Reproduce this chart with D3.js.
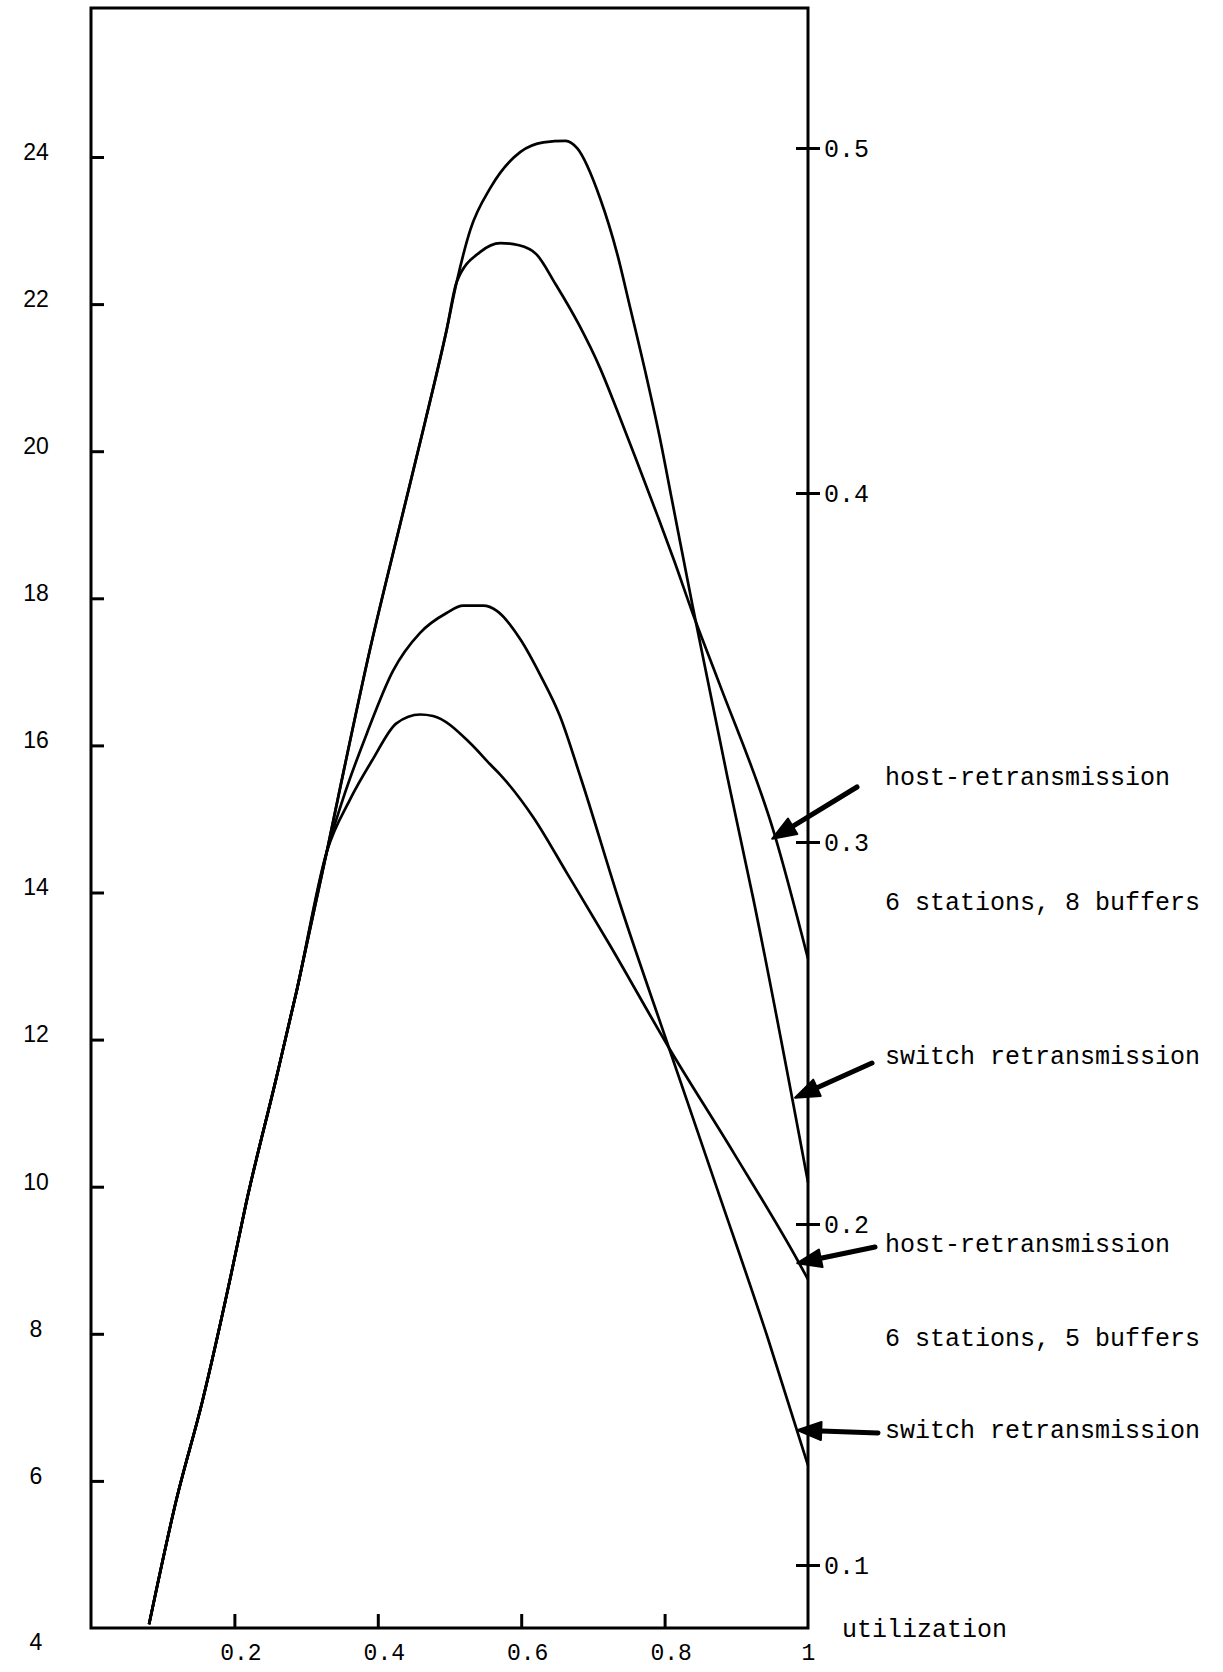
<!DOCTYPE html>
<html>
<head>
<meta charset="utf-8">
<script src="https://cdn.jsdelivr.net/npm/d3@7"></script>
<style>
  body { margin: 0; background: #fff; }
  svg { display: block; }
  .mono { font-family: "Liberation Mono", "DejaVu Sans Mono", monospace; }
  .sans { font-family: "Liberation Sans", Arial, sans-serif; }
</style>
</head>
<body>
<svg id="chart" width="1223" height="1672"></svg>
<script>
// values (x = utilization, y = left axis units)
const commonRise = [
  [0.081, 4.05], [0.119, 5.74], [0.155, 7.07], [0.197, 8.88], [0.216, 9.76],
  [0.258, 11.46], [0.287, 12.67], [0.329, 14.56],
];
const sharedUpper = [
  [0.347, 15.40], [0.389, 17.30], [0.431, 19.00], [0.466, 20.40],
  [0.496, 21.65], [0.510, 22.30],
];
const switch8 = [
  [0.529, 23.01], [0.557, 23.58], [0.599, 24.07], [0.631, 24.20], [0.662, 24.22],
  [0.678, 24.12], [0.710, 23.44], [0.734, 22.68], [0.752, 21.95], [0.775, 21.00],
  [0.793, 20.20], [0.810, 19.35], [0.839, 17.90], [0.864, 16.70], [0.888, 15.55],
  [0.924, 13.90], [1.0, 10.06],
];
const host8 = [
  [0.543, 22.71], [0.571, 22.83], [0.597, 22.80], [0.621, 22.68], [0.648, 22.27],
  [0.680, 21.73], [0.710, 21.13], [0.734, 20.55], [0.761, 19.87], [0.791, 19.10],
  [0.813, 18.52], [0.839, 17.80], [0.876, 16.85], [0.953, 14.80], [1.0, 13.10],
];
const switch5 = [
  [0.351, 15.26], [0.385, 16.17], [0.421, 17.01], [0.459, 17.53], [0.496, 17.80],
  [0.519, 17.90], [0.547, 17.90], [0.566, 17.83], [0.599, 17.44], [0.627, 16.95],
  [0.654, 16.40], [0.683, 15.56], [0.738, 13.84], [0.806, 11.89], [0.874, 9.95],
  [0.944, 7.94], [1.0, 6.21],
];
const host5 = [
  [0.361, 15.26], [0.393, 15.81], [0.426, 16.30], [0.459, 16.42], [0.477, 16.40],
  [0.529, 16.03], [0.557, 15.74], [0.571, 15.60], [0.617, 15.02], [0.664, 14.26],
  [0.724, 13.28], [0.806, 11.89], [0.897, 10.45], [0.986, 8.99], [1.0, 8.74],
];

const leftTicks = [4, 6, 8, 10, 12, 14, 16, 18, 20, 22, 24];
const rightTicks = [0.1, 0.2, 0.3, 0.4, 0.5];
const xTicks = [0.2, 0.4, 0.6, 0.8, 1];
const xTickLabels = ['0.2', '0.4', '0.6', '0.8', '1'];
const rightTickLabels = ['0.1', '0.2', '0.3', '0.4', '0.5'];

// annotation texts and the curve point each arrow points at
const notes = [
  {text: 'host-retransmission', tip: [0.950, 14.73]},
  {text: '6 stations, 8 buffers'},
  {text: 'switch retransmission', tip: [0.982, 11.21]},
  {text: 'host-retransmission', tip: [0.985, 8.96]},
  {text: '6 stations, 5 buffers'},
  {text: 'switch retransmission', tip: [0.985, 6.69]},
];
const noteY = [777, 902, 1056, 1244, 1338, 1430];
const tailDy = [10, 0, 7, 3, 0, 3];
const tailX = [857, 0, 872, 875, 0, 878];

const svg = d3.select('#chart');
const frameTop = 8;

const x = d3.scaleLinear().domain([0, 1]).range([91, 808]);
const y = d3.scaleLinear().domain([4, 24]).range([1628, 157]);
// the right scale is hand drawn and not quite even
const yR = d3.scaleLinear().domain(rightTicks).range([1565, 1224, 842, 493, 148]);

svg.append('rect').attr('width', 1223).attr('height', 1672).attr('fill', '#fff');

// frame
svg.append('path')
    .attr('d', `M${x(0)},${y(4)}V${frameTop}H${x(1)}V${y(4)}Z`)
    .attr('fill', 'none')
    .attr('stroke', '#000')
    .attr('stroke-width', 3);

// left axis
const gl = svg.append('g')
    .attr('transform', `translate(${x(0)},0)`)
    .call(d3.axisLeft(y).tickValues(leftTicks).tickSizeInner(-13)
        .tickSizeOuter(0).tickPadding(55).tickFormat(d3.format('d')));
gl.select('.domain').remove();
gl.selectAll('.tick line').attr('stroke-width', 3)
    .filter((d) => d === 4).remove();
gl.selectAll('.tick text')
    .attr('class', 'sans')
    .attr('text-anchor', 'middle')
    .attr('font-size', 23)
    .attr('fill', '#000')
    .attr('dy', (d) => d === 4 ? '0.95em' : '0.1em');

// bottom axis
const gb = svg.append('g')
    .attr('transform', `translate(0,${y(4)})`)
    .call(d3.axisBottom(x).tickValues(xTicks).tickSizeInner(-14)
        .tickSizeOuter(0).tickPadding(16)
        .tickFormat((d, i) => xTickLabels[i]));
gb.select('.domain').remove();
gb.selectAll('.tick line').attr('stroke-width', 3)
    .filter((d) => d === 1).remove();
gb.selectAll('.tick text')
    .attr('class', 'mono')
    .attr('font-size', 23)
    .attr('fill', '#000')
    .attr('dx', (d) => d === 1 ? 0 : 6);

svg.append('text')
    .attr('class', 'mono')
    .attr('x', 842)
    .attr('y', y(4))
    .attr('dy', '0.35em')
    .attr('font-size', 25)
    .text('utilization');

// right axis
const gr = svg.append('g')
    .attr('transform', `translate(${x(1)},0)`)
    .call(d3.axisRight(yR).tickValues(rightTicks).tickSizeInner(12)
        .tickSizeOuter(0).tickPadding(4)
        .tickFormat((d, i) => rightTickLabels[i]));
gr.select('.domain').remove();
gr.selectAll('.tick line').attr('x1', -12).attr('stroke-width', 3);
gr.selectAll('.tick text')
    .attr('class', 'mono')
    .attr('font-size', 25)
    .attr('fill', '#000');

// curves
const line = d3.line()
    .x((d) => x(d[0]))
    .y((d) => y(d[1]))
    .curve(d3.curveMonotoneX);

const series = [
  commonRise.concat(sharedUpper, switch8),
  commonRise.concat(sharedUpper, host8),
  commonRise.concat(switch5),
  commonRise.concat(host5),
];
svg.append('g')
    .selectAll('path')
    .data(series)
    .join('path')
    .attr('d', line)
    .attr('fill', 'none')
    .attr('stroke', '#000')
    .attr('stroke-width', 2.7)
    .attr('stroke-linejoin', 'round');

// annotations
const gn = svg.append('g');
notes.forEach((n, i) => {
  gn.append('text')
      .attr('class', 'mono')
      .attr('x', 885)
      .attr('y', noteY[i])
      .attr('dy', '0.3em')
      .attr('font-size', 25)
      .text(n.text);
  if (!n.tip) return;
  const tx = x(n.tip[0]);
  const ty = y(n.tip[1]);
  const sx = tailX[i];
  const sy = noteY[i] + tailDy[i];
  const ang = Math.atan2(ty - sy, tx - sx);
  const headLen = 24;
  const headW = 9;
  const bx = tx - headLen * Math.cos(ang);
  const by = ty - headLen * Math.sin(ang);
  gn.append('line')
      .attr('x1', sx).attr('y1', sy)
      .attr('x2', bx).attr('y2', by)
      .attr('stroke', '#000')
      .attr('stroke-width', 5)
      .attr('stroke-linecap', 'round');
  const px = -Math.sin(ang) * headW;
  const py = Math.cos(ang) * headW;
  gn.append('path')
      .attr('d', `M${tx},${ty}L${bx + px},${by + py}L${bx - px},${by - py}Z`)
      .attr('fill', '#000')
      .attr('stroke', '#000')
      .attr('stroke-width', 2)
      .attr('stroke-linejoin', 'round');
});
</script>
</body>
</html>
